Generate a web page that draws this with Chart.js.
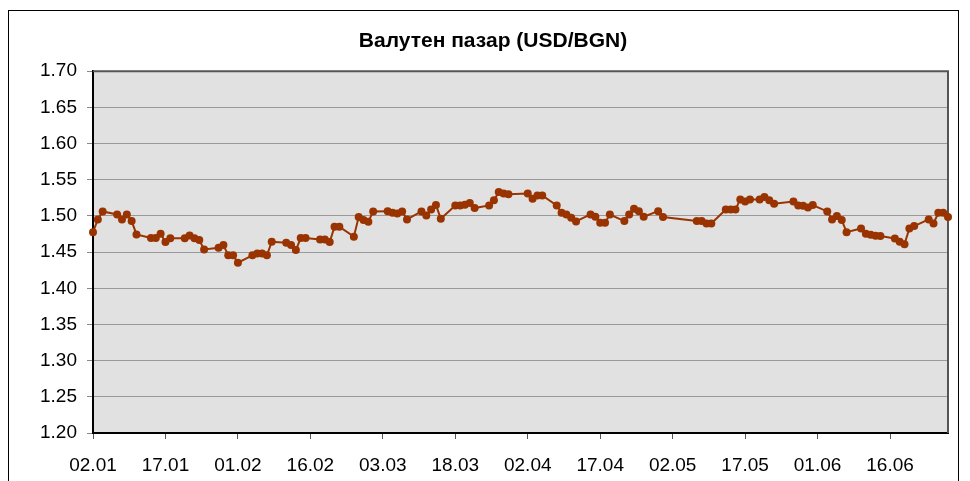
<!DOCTYPE html>
<html><head><meta charset="utf-8">
<script src="https://cdn.jsdelivr.net/npm/chart.js@4/dist/chart.umd.min.js"></script>
<style>html,body{margin:0;padding:0;background:#fff;}#wrap{position:relative;width:970px;height:481px;}</style>
</head><body><div id="wrap"><canvas id="c" width="970" height="481"></canvas></div>
<script>
const chartTitle = "Валутен пазар (USD/BGN)";
const dates = [
"02.01","03.01","04.01","07.01","08.01","09.01","10.01","11.01","14.01","15.01","16.01","17.01","18.01",
"21.01","22.01","23.01","24.01","25.01","28.01","29.01","30.01","31.01","01.02",
"04.02","05.02","06.02","07.02","08.02","11.02","12.02","13.02","14.02","15.02",
"18.02","19.02","20.02","21.02","22.02","25.02","26.02","27.02","28.02","01.03",
"04.03","05.03","06.03","07.03","08.03","11.03","12.03","13.03","14.03","15.03",
"18.03","19.03","20.03","21.03","22.03","25.03","26.03","27.03","28.03","29.03",
"02.04","03.04","04.04","05.04","08.04","09.04","10.04","11.04","12.04",
"15.04","16.04","17.04","18.04","19.04","22.04","23.04","24.04","25.04","26.04","29.04","30.04",
"07.05","08.05","09.05","10.05","13.05","14.05","15.05","16.05","17.05","18.05",
"20.05","21.05","22.05","23.05","27.05","28.05","29.05","30.05","31.05",
"03.06","04.06","05.06","06.06","07.06","10.06","11.06","12.06","13.06","14.06",
"17.06","18.06","19.06","20.06","21.06","24.06","25.06","26.06","27.06","28.06"
];
const usdBgn = [
1.4776,1.4952,1.5062,1.5020,1.4950,1.5020,1.4929,1.4744,1.4694,1.4694,1.4754,1.4638,1.4690,
1.4690,1.4730,1.4690,1.4666,1.4537,1.4560,1.4597,1.4455,1.4455,1.4353,
1.4455,1.4480,1.4480,1.4455,1.4643,1.4630,1.4597,1.4528,1.4694,1.4694,
1.4675,1.4675,1.4638,1.4850,1.4850,1.4713,1.4984,1.4942,1.4920,1.5062,
1.5066,1.5044,1.5035,1.5062,1.4952,1.5062,1.5007,1.5090,1.5150,1.4961,
1.5145,1.5145,1.5155,1.5177,1.5108,1.5145,1.5218,1.5329,1.5310,1.5300,
1.5310,1.5237,1.5283,1.5283,1.5145,1.5044,1.5020,1.4975,1.4924,
1.5020,1.4989,1.4906,1.4906,1.5020,1.4929,1.5020,1.5099,1.5066,1.4989,1.5066,1.4984,
1.4929,1.4929,1.4896,1.4896,1.5090,1.5090,1.5090,1.5228,1.5200,1.5228,
1.5228,1.5260,1.5218,1.5168,1.5200,1.5145,1.5140,1.5115,1.5150,
1.5062,1.4952,1.4998,1.4942,1.4776,1.4827,1.4754,1.4740,1.4725,1.4721,
1.4689,1.4643,1.4610,1.4827,1.4859,1.4952,1.4896,1.5044,1.5044,1.4984
];
const xTickLabels = ["02.01","17.01","01.02","16.02","03.03","18.03","02.04","17.04","02.05","17.05","01.06","16.06"];
const xFirst = "02.01", xLast = "28.06";
const yMin = 1.20, yMax = 1.70, yStep = 0.05;

function dayOfYear(s){
  const p = s.split('.').map(Number);
  const cum = [0,31,59,90,120,151,181,212,243,273,304,334];
  return cum[p[1]-1] + p[0];
}
const labelByDay = {};
xTickLabels.forEach(l => labelByDay[dayOfYear(l)] = l);

const FONT = "'Liberation Sans', Arial, sans-serif";
const plotDecor = {
  id: 'plotDecor',
  beforeDraw(chart){
    const {ctx, chartArea:a} = chart;
    ctx.save();
    ctx.fillStyle = '#fff';
    ctx.fillRect(0,0,chart.width,chart.height);
    ctx.strokeStyle = '#000'; ctx.lineWidth = 1;
    ctx.strokeRect(8.5, 10.5, 950, 520);
    ctx.fillStyle = '#E1E1E1';
    ctx.fillRect(a.left, a.top, a.right-a.left, a.bottom-a.top);
    ctx.restore();
  },
  beforeDatasetsDraw(chart){
    const {ctx, chartArea:a} = chart;
    ctx.save();
    ctx.strokeStyle = '#555'; ctx.lineWidth = 2;
    ctx.beginPath();
    ctx.moveTo(a.left, a.top); ctx.lineTo(a.right, a.top); ctx.lineTo(a.right, a.bottom);
    ctx.stroke();
    ctx.restore();
  }
};

new Chart(document.getElementById('c'), {
  type: 'line',
  data: {
    datasets: [{
      data: dates.map((d,i) => ({x: dayOfYear(d), y: usdBgn[i]})),
      borderColor: '#993300',
      backgroundColor: '#993300',
      borderWidth: 2,
      pointRadius: 4,
      pointBorderWidth: 0,
      pointBackgroundColor: '#993300',
      tension: 0,
      clip: false
    }]
  },
  options: {
    responsive: false,
    devicePixelRatio: 1,
    animation: false,
    layout: {padding: {left: 38, right: 22, top: 0, bottom: 0}},
    plugins: {
      legend: {display: false},
      tooltip: {enabled: false},
      title: {
        display: true, text: chartTitle, color: '#000',
        font: {family: FONT, size: 21, weight: 'bold', lineHeight: 1.2},
        padding: {top: 29, bottom: 17}
      }
    },
    scales: {
      x: {
        type: 'linear',
        min: dayOfYear(xFirst), max: dayOfYear(xLast),
        afterBuildTicks: s => { s.ticks = xTickLabels.map(l => ({value: dayOfYear(l)})); },
        afterFit: s => { s.height = 48; },
        ticks: {
          autoSkip: false, maxRotation: 0, minRotation: 0, color: '#000', padding: 15,
          font: {family: FONT, size: 19},
          callback: v => labelByDay[v] || ''
        },
        grid: {drawOnChartArea: false, drawTicks: true, tickLength: 6, color: '#555', lineWidth: 1},
        border: {display: true, color: '#000', width: 2}
      },
      y: {
        min: yMin, max: yMax,
        afterFit: s => { s.width = 55; },
        ticks: {
          stepSize: yStep, color: '#000', padding: 10,
          font: {family: FONT, size: 19},
          callback: v => Number(v).toFixed(2)
        },
        grid: {color: '#999', lineWidth: 1, tickLength: 6, tickColor: '#888'},
        border: {display: true, color: '#000', width: 2}
      }
    }
  },
  plugins: [plotDecor]
});
</script>
</body></html>
